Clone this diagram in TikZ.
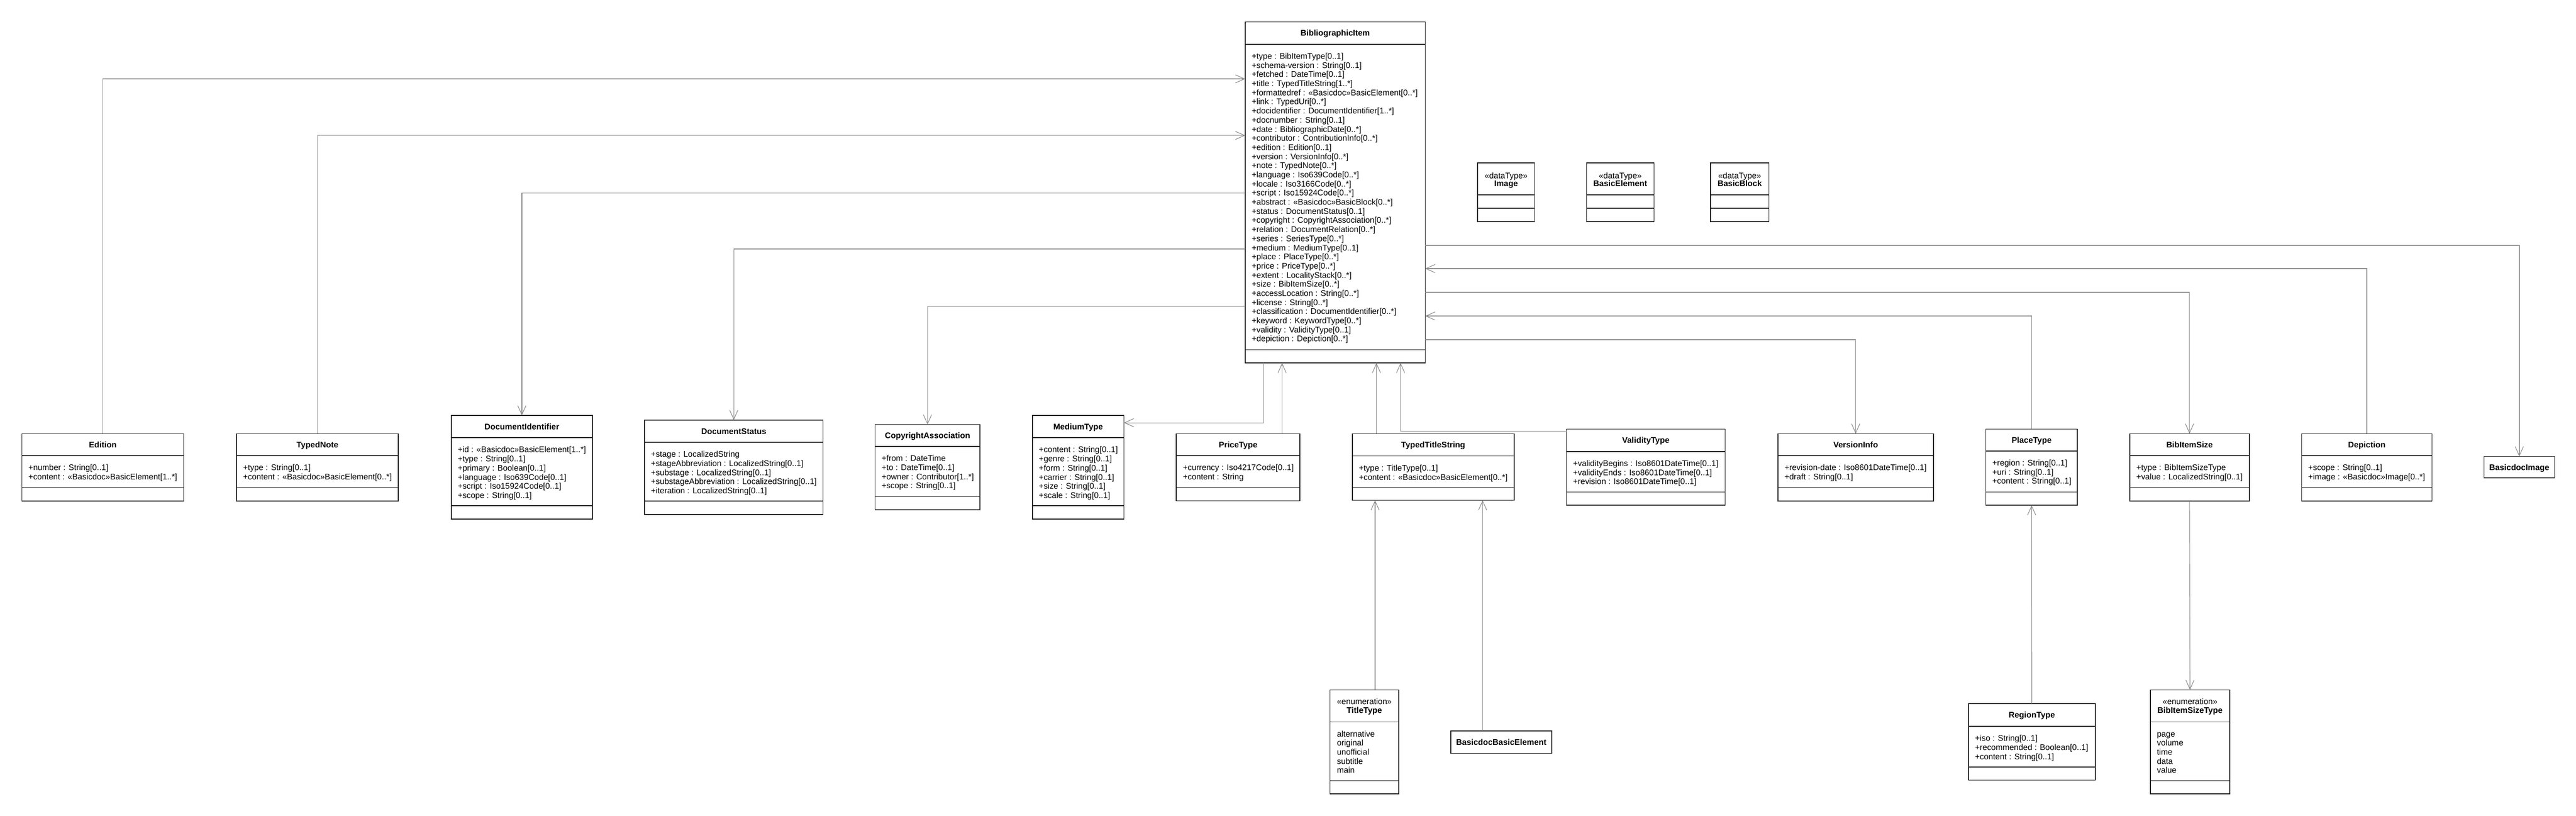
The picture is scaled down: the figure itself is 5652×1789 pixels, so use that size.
\documentclass[tikz,border=0pt]{standalone}
\usepackage{fontspec}
\setmainfont{Liberation Sans}
\usetikzlibrary{arrows.meta}
\tikzset{
 umlbox/.style={draw=black!85, line width=0.9pt, inner sep=0pt, outer sep=0pt, fill=white},
 sepline/.style={draw=black!85, line width=0.9pt},
 titletext/.style={font=\fontsize{9}{10}\selectfont\bfseries, inner sep=0pt},
 stereotext/.style={font=\fontsize{9}{10}\selectfont, inner sep=0pt},
 attrtext/.style={font=\fontsize{9}{10}\selectfont, inner sep=0pt, align=left},
 assoc/.style={draw=black!45, line width=0.65pt},
 assocarrow/.style={-{Straight Barb[length=10pt,width=9pt,line width=0.65pt]}},
}
\newcommand\fl{\rule{0pt}{7.5pt}}
% name, left, right, top, header line, attribute end, bottom
\newcommand\umlbox[7]{%
 \node[umlbox, minimum width={(#3-#2)*0.5pt}, minimum height={(#7-#4)*0.5pt}, anchor=north west] (#1) at (#2,#4) {};
 \draw[sepline] (#2,#5) -- (#3,#5);
 \draw[sepline] (#2,#6) -- (#3,#6);
}
% name, left, right, top, bottom
\newcommand\simplebox[5]{%
 \node[umlbox, minimum width={(#3-#2)*0.5pt}, minimum height={(#5-#4)*0.5pt}, anchor=north west] (#1) at (#2,#4) {};
}
% name, left, right, baseline y, text
\newcommand\umltitle[5]{%
 \node[titletext, anchor=base] (#1) at ({(#2+#3)/2},#4) {#5};
}
\newcommand\umlstereo[5]{%
 \node[stereotext, anchor=base] (#1) at ({(#2+#3)/2},#4) {#5};
}
% name, left, header y, text
\newcommand\umlattrs[4]{%
 \node[attrtext, anchor=north west] (#1) at (#2+14,#3+17) {\fl #4};
}
\begin{document}
\begin{tikzpicture}[x=0.5pt,y=-0.5pt]
\useasboundingbox (0,0) rectangle (5652,1789);
\fill[white] (0,0) rectangle (5652,1789);

% ---------------- BibliographicItem
\umlbox{bi}{2732}{3127}{48}{97}{767}{796}
\umltitle{bi-t}{2732}{3127}{79}{BibliographicItem}
\umlattrs{bi-a}{2732}{97}{+type : BibItemType[0..1]\\
+schema-version : String[0..1]\\
+fetched : DateTime[0..1]\\
+title : TypedTitleString[1..*]\\
+formattedref : «Basicdoc»BasicElement[0..*]\\
+link : TypedUri[0..*]\\
+docidentifier : DocumentIdentifier[1..*]\\
+docnumber : String[0..1]\\
+date : BibliographicDate[0..*]\\
+contributor : ContributionInfo[0..*]\\
+edition : Edition[0..1]\\
+version : VersionInfo[0..*]\\
+note : TypedNote[0..*]\\
+language : Iso639Code[0..*]\\
+locale : Iso3166Code[0..*]\\
+script : Iso15924Code[0..*]\\
+abstract : «Basicdoc»BasicBlock[0..*]\\
+status : DocumentStatus[0..1]\\
+copyright : CopyrightAssociation[0..*]\\
+relation : DocumentRelation[0..*]\\
+series : SeriesType[0..*]\\
+medium : MediumType[0..1]\\
+place : PlaceType[0..*]\\
+price : PriceType[0..*]\\
+extent : LocalityStack[0..*]\\
+size : BibItemSize[0..*]\\
+accessLocation : String[0..*]\\
+license : String[0..*]\\
+classification : DocumentIdentifier[0..*]\\
+keyword : KeywordType[0..*]\\
+validity : ValidityType[0..1]\\
+depiction : Depiction[0..*]}

% ---------------- data types
\umlbox{dimg}{3242}{3367}{357}{427}{457}{486}
\umlstereo{dimg-s}{3242}{3367}{392}{«dataType»}
\umltitle{dimg-t}{3242}{3367}{409}{Image}
\umlbox{dbe}{3481}{3629}{357}{427}{457}{486}
\umlstereo{dbe-s}{3481}{3629}{392}{«dataType»}
\umltitle{dbe-t}{3481}{3629}{409}{BasicElement}
\umlbox{dbb}{3753}{3881}{357}{427}{457}{486}
\umlstereo{dbb-s}{3753}{3881}{392}{«dataType»}
\umltitle{dbb-t}{3753}{3881}{409}{BasicBlock}

% ---------------- row of classes
\umlbox{ed}{48}{403}{951}{999}{1069}{1099}
\umltitle{ed-t}{48}{403}{981.5}{Edition}
\umlattrs{ed-a}{48}{999}{+number : String[0..1]\\+content : «Basicdoc»BasicElement[1..*]}

\umlbox{tn}{519}{874}{951}{999}{1069}{1099}
\umltitle{tn-t}{519}{874}{981.5}{TypedNote}
\umlattrs{tn-a}{519}{999}{+type : String[0..1]\\+content : «Basicdoc»BasicElement[0..*]}

\umlbox{di}{990}{1300}{911}{960}{1109}{1138}
\umltitle{di-t}{990}{1300}{942}{DocumentIdentifier}
\umlattrs{di-a}{990}{960}{+id : «Basicdoc»BasicElement[1..*]\\
+type : String[0..1]\\
+primary : Boolean[0..1]\\
+language : Iso639Code[0..1]\\
+script : Iso15924Code[0..1]\\
+scope : String[0..1]}

\umlbox{ds}{1414}{1806}{921}{970}{1099}{1128}
\umltitle{ds-t}{1414}{1806}{952}{DocumentStatus}
\umlattrs{ds-a}{1414}{970}{+stage : LocalizedString\\
+stageAbbreviation : LocalizedString[0..1]\\
+substage : LocalizedString[0..1]\\
+substageAbbreviation : LocalizedString[0..1]\\
+iteration : LocalizedString[0..1]}

\umlbox{ca}{1920}{2150}{931}{979}{1089}{1118}
\umltitle{ca-t}{1920}{2150}{961.5}{CopyrightAssociation}
\umlattrs{ca-a}{1920}{979}{+from : DateTime\\
+to : DateTime[0..1]\\
+owner : Contributor[1..*]\\
+scope : String[0..1]}

\umlbox{mt}{2265}{2466}{911}{960}{1109}{1138}
\umltitle{mt-t}{2265}{2466}{942}{MediumType}
\umlattrs{mt-a}{2265}{960}{+content : String[0..1]\\
+genre : String[0..1]\\
+form : String[0..1]\\
+carrier : String[0..1]\\
+size : String[0..1]\\
+scale : String[0..1]}

\umlbox{pt}{2581}{2852}{951}{999}{1069}{1098}
\umltitle{pt-t}{2581}{2852}{981.5}{PriceType}
\umlattrs{pt-a}{2581}{999}{+currency : Iso4217Code[0..1]\\
+content : String}

\umlbox{tts}{2967}{3322}{951}{1000}{1069}{1097}
\umltitle{tts-t}{2967}{3322}{982}{TypedTitleString}
\umlattrs{tts-a}{2967}{1000}{+type : TitleType[0..1]\\
+content : «Basicdoc»BasicElement[0..*]}

\umlbox{vt}{3437}{3785}{941}{990}{1079}{1108}
\umltitle{vt-t}{3437}{3785}{972}{ValidityType}
\umlattrs{vt-a}{3437}{990}{+validityBegins : Iso8601DateTime[0..1]\\
+validityEnds : Iso8601DateTime[0..1]\\
+revision : Iso8601DateTime[0..1]}

\umlbox{vi}{3901}{4242}{951}{999}{1069}{1099}
\umltitle{vi-t}{3901}{4242}{981.5}{VersionInfo}
\umlattrs{vi-a}{3901}{999}{+revision-date : Iso8601DateTime[0..1]\\
+draft : String[0..1]}

\umlbox{plt}{4357}{4558}{941}{989}{1079}{1108}
\umltitle{plt-t}{4357}{4558}{971.5}{PlaceType}
\umlattrs{plt-a}{4357}{989}{+region : String[0..1]\\
+uri : String[0..1]\\
+content : String[0..1]}

\umlbox{bis}{4673}{4935}{951}{999}{1069}{1099}
\umltitle{bis-t}{4673}{4935}{981.5}{BibItemSize}
\umlattrs{bis-a}{4673}{999}{+type : BibItemSizeType\\
+value : LocalizedString[0..1]}

\umlbox{dep}{5050}{5336}{951}{999}{1069}{1099}
\umltitle{dep-t}{5050}{5336}{981.5}{Depiction}
\umlattrs{dep-a}{5050}{999}{+scope : String[0..1]\\
+image : «Basicdoc»Image[0..*]}

\simplebox{bimg}{5450}{5605}{1001}{1048}
\umltitle{bimg-t}{5450}{5605}{1031}{BasicdocImage}

% ---------------- bottom row
\umlbox{tt}{2918}{3069}{1513}{1583}{1712}{1741}
\umlstereo{tt-s}{2918}{3069}{1545}{«enumeration»}
\umltitle{tt-t}{2918}{3069}{1564}{TitleType}
\umlattrs{tt-a}{2919}{1583}{alternative\\original\\unofficial\\subtitle\\main}

\simplebox{bbe}{3183}{3405}{1603}{1652}
\umltitle{bbe-t}{3183}{3405}{1634}{BasicdocBasicElement}

\umlbox{rt}{4319}{4597}{1543}{1593}{1682}{1711}
\umltitle{rt-t}{4319}{4597}{1574.5}{RegionType}
\umlattrs{rt-a}{4319}{1593}{+iso : String[0..1]\\
+recommended : Boolean[0..1]\\
+content : String[0..1]}

\umlbox{bist}{4718}{4892}{1513}{1583}{1712}{1741}
\umlstereo{bist-s}{4718}{4892}{1545}{«enumeration»}
\umltitle{bist-t}{4718}{4892}{1564}{BibItemSizeType}
\umlattrs{bist-a}{4718}{1583}{page\\volume\\time\\data\\value}

% ---------------- connectors
\draw[assoc, assocarrow] (ed.north) |- (bi.west |- 0,173);
\draw[assoc, assocarrow] (tn.north) |- (bi.west |- 0,297);
\draw[assoc, assocarrow] (bi.west |- 0,423) -| (di.north);
\draw[assoc, assocarrow] (bi.west |- 0,546) -| (ds.north);
\draw[assoc, assocarrow] (bi.west |- 0,672) -| (ca.north);
\draw[assoc, assocarrow] (bi.south -| 2772,0) |- (mt.east |- 0,927);
\draw[assoc, assocarrow] (pt.north -| 2813,0) -- (bi.south -| 2813,0);
\draw[assoc, assocarrow] (tts.north -| 3020,0) -- (bi.south -| 3020,0);
\draw[assoc, assocarrow] (vt.west |- 0,946) -| (bi.south -| 3073,0);
\draw[assoc, assocarrow] (bi.east |- 0,745) -| (vi.north);
\draw[assoc, assocarrow] (plt.north) |- (bi.east |- 0,693);
\draw[assoc, assocarrow] (bi.east |- 0,641) -| (bis.north);
\draw[assoc, assocarrow] (dep.north) |- (bi.east |- 0,589);
\draw[assoc, assocarrow] (bi.east |- 0,538) -| (bimg.north);
\draw[assoc, assocarrow] (tt.north -| 3017,0) -- (tts.south -| 3017,0);
\draw[assoc, assocarrow] (bbe.north -| 3253,0) -- (tts.south -| 3253,0);
\draw[assoc, assocarrow] (rt.north) -- (plt.south);
\draw[assoc, assocarrow] (bis.south) -- (bist.north);
\end{tikzpicture}
\end{document}
